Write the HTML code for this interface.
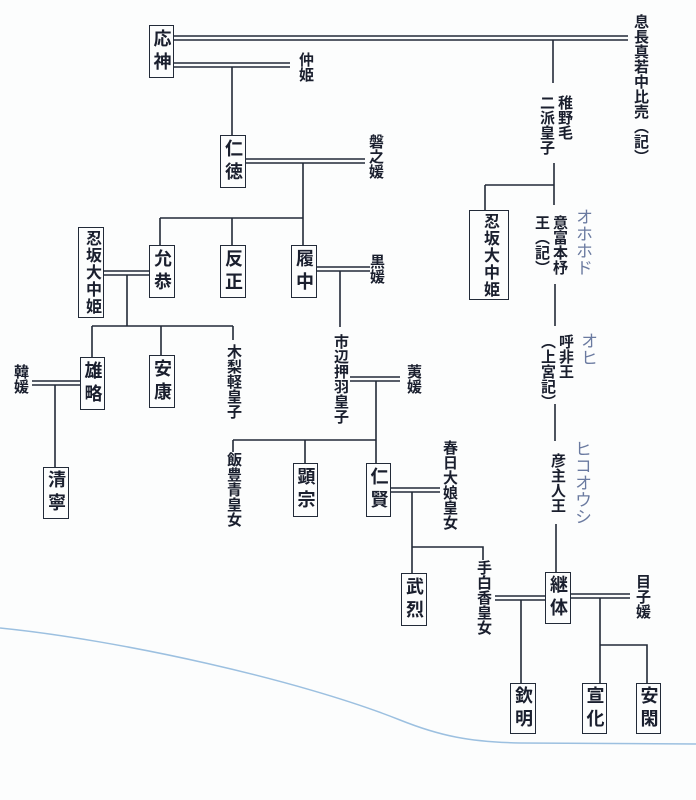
<!DOCTYPE html>
<html><head><meta charset="utf-8"><style>
html,body{margin:0;padding:0;background:#fdfdfd;}
#c{position:relative;width:696px;height:800px;overflow:hidden;background:#fcfdfd;font-family:"Liberation Sans","Noto Sans CJK JP",sans-serif;color:#1a1f2e;}
.v{position:absolute;writing-mode:vertical-rl;font-size:15px;line-height:18px;font-weight:bold;white-space:nowrap;letter-spacing:0px;}
.b{position:absolute;border:1.6px solid #222a38;box-sizing:border-box;background:#fcfdfd;writing-mode:vertical-rl;font-size:18px;font-weight:bold;display:flex;align-items:center;justify-content:center;letter-spacing:5px;white-space:nowrap;}
.b.s{font-size:16px;letter-spacing:1px;}
.h{position:absolute;writing-mode:vertical-rl;font-size:17px;color:#6a7aa0;font-weight:normal;white-space:nowrap;}
svg{position:absolute;left:0;top:0;}
</style></head><body><div id="c">
<svg width="696" height="800" viewBox="0 0 696 800" fill="none" stroke="#222a38" stroke-width="1.6">
<path d="M0 628 C120 640 300 680 400 720 C440 736 470 742 520 743 L696 744" stroke="#9cc0e0" stroke-width="1.5"/>
<path d="M173 36H628M173 40H628"/>
<path d="M173 63H290M173 67H290"/>
<path d="M232 67V137"/>
<path d="M553 40V83"/>
<path d="M245 159H365M245 163H365"/>
<path d="M303 163V245M160 218H303M160 218V245M232 218V245"/>
<path d="M103 271H150M103 275H150"/>
<path d="M127 275V326M92 326H233M92 326V357M161 326V355M233 326V340"/>
<path d="M32 381H80M32 385H80"/>
<path d="M55 385V467"/>
<path d="M316 267H370M316 271H370"/>
<path d="M340 271V327"/>
<path d="M350 377H400M350 381H400"/>
<path d="M376 381V463M233 440H376M233 440V452M305 440V463"/>
<path d="M390 488H440M390 492H440"/>
<path d="M412 492V574M412 547H483V560"/>
<path d="M554 163V205M485 185H554M485 185V210"/>
<path d="M555 284V326M555 404V441M556 524V572"/>
<path d="M495 596H545M495 600H545"/>
<path d="M570 594H630M570 598H630"/>
<path d="M521 600V683M600 598V683M600 645H647V683"/>
</svg>

<div class="b" style="left:149px;top:25px;width:25px;height:53px;">応神</div>
<div class="v" style="left:296px;top:52px;">仲姫</div>
<div class="b" style="left:220px;top:135px;width:26px;height:53px;">仁徳</div>
<div class="v" style="left:366px;top:134px;">磐之媛</div>
<div class="b s" style="left:78px;top:227px;width:26px;height:91px;">忍坂大中姫</div>
<div class="b" style="left:149px;top:245px;width:26px;height:53px;">允恭</div>
<div class="b" style="left:220px;top:245px;width:26px;height:53px;">反正</div>
<div class="b" style="left:291px;top:245px;width:26px;height:53px;">履中</div>
<div class="v" style="left:367px;top:254px;">黒媛</div>
<div class="v" style="left:11px;top:364px;">韓媛</div>
<div class="b" style="left:80px;top:357px;width:25px;height:53px;">雄略</div>
<div class="b" style="left:149px;top:355px;width:26px;height:53px;">安康</div>
<div class="v" style="left:224px;top:344px;">木梨軽皇子</div>
<div class="v" style="left:331px;top:334px;">市辺押羽皇子</div>
<div class="v" style="left:404px;top:364px;">荑媛</div>
<div class="b" style="left:43px;top:467px;width:26px;height:52px;">清寧</div>
<div class="v" style="left:224px;top:452px;">飯豊青皇女</div>
<div class="b" style="left:293px;top:463px;width:25px;height:54px;">顕宗</div>
<div class="b" style="left:366px;top:463px;width:25px;height:54px;">仁賢</div>
<div class="v" style="left:440px;top:440px;">春日大娘皇女</div>
<div class="b" style="left:401px;top:573px;width:26px;height:53px;">武烈</div>
<div class="v" style="left:474px;top:560px;">手白香皇女</div>
<div class="b" style="left:545px;top:572px;width:26px;height:52px;">継体</div>
<div class="v" style="left:633px;top:574px;">目子媛</div>
<div class="b" style="left:510px;top:683px;width:26px;height:51px;">欽明</div>
<div class="b" style="left:582px;top:683px;width:25px;height:51px;">宣化</div>
<div class="b" style="left:636px;top:683px;width:25px;height:51px;">安閑</div>

<div class="v" style="left:631px;top:14px;line-height:18px;">息長真若中比売（記）</div>
<div class="v" style="left:537px;top:95px;">稚野毛<br>二派皇子</div>
<div class="b s" style="left:469px;top:210px;width:40px;height:90px;">忍坂大中姫</div>
<div class="v" style="left:532px;top:215px;">意富本杼<br>王（記）</div>
<div class="v" style="left:538px;top:334px;">呼非王<br>（上宮記）</div>
<div class="v" style="left:548px;top:453px;">彦主人王</div>
<div class="h" style="left:570px;top:208px;">オホホド</div>
<div class="h" style="left:575px;top:332px;">オヒ</div>
<div class="h" style="left:569px;top:440px;">ヒコオウシ</div>
</div></body></html>
